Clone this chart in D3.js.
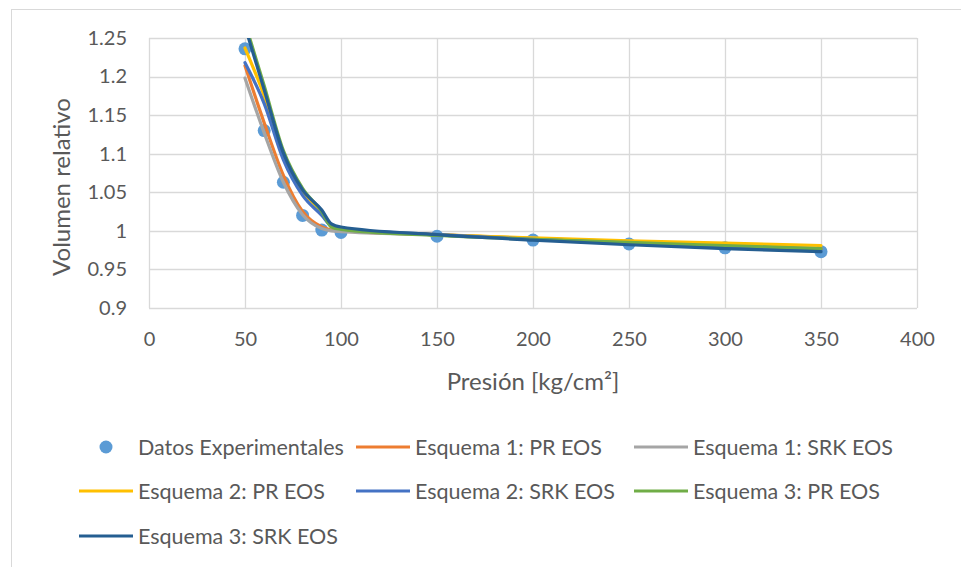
<!DOCTYPE html>
<html><head><meta charset="utf-8">
<script src="https://cdn.jsdelivr.net/npm/d3@7"></script>
<style>
html,body{margin:0;padding:0;background:#fff;}
svg{display:block;}
text{font-family:Lato,"Open Sans",sans-serif;fill:#595959;}
</style></head>
<body><svg id="c" width="961" height="567"></svg>
<script>
// ---- data ----
const expPressures = [50, 60, 70, 80, 90, 100, 150, 200, 250, 300, 350];
const expValues = [1.236, 1.130, 1.063, 1.020, 1.001, 0.998, 0.993, 0.988, 0.983, 0.978, 0.973];
const modelPressures = [50, 60, 70, 80, 90, 95, 100, 150, 200, 250, 300, 350];
const esq1PR  = [1.214, 1.140, 1.072, 1.025, 1.005, 1.001, 1.000, 0.995, 0.990, 0.986, 0.981, 0.977];
const esq1SRK = [1.198, 1.127, 1.063, 1.021, 1.003, 1.000, 0.999, 0.995, 0.990, 0.985, 0.980, 0.976];
const esq2PR  = [1.237, 1.175, 1.099, 1.052, 1.024, 1.007, 1.003, 0.995, 0.991, 0.987, 0.984, 0.981];
const esq2SRK = [1.218, 1.165, 1.092, 1.046, 1.020, 1.006, 1.003, 0.995, 0.989, 0.984, 0.979, 0.975];
const esq3PR  = [1.270, 1.188, 1.104, 1.055, 1.025, 1.005, 1.002, 0.994, 0.989, 0.985, 0.981, 0.977];
const esq3SRK = [1.265, 1.183, 1.101, 1.053, 1.027, 1.009, 1.005, 0.995, 0.988, 0.982, 0.977, 0.973];
const seriesNames = ["Datos Experimentales", "Esquema 1: PR EOS", "Esquema 1: SRK EOS",
  "Esquema 2: PR EOS", "Esquema 2: SRK EOS", "Esquema 3: PR EOS", "Esquema 3: SRK EOS"];
const seriesColors = ["#5B9BD5", "#ED7D31", "#A5A5A5", "#FFC000", "#4472C4", "#70AD47", "#255E91"];
const xTicks = [0, 50, 100, 150, 200, 250, 300, 350, 400];
const yTicks = [0.9, 0.95, 1, 1.05, 1.1, 1.15, 1.2, 1.25];
const xTitle = "Presión [kg/cm²]";
const yTitle = "Volumen relativo";

const lines = [esq1PR, esq1SRK, esq2PR, esq2SRK, esq3PR, esq3SRK];

const svg = d3.select("#c");
svg.append("rect").attr("x", 11.5).attr("y", 9.5).attr("width", 1000).attr("height", 600)
  .attr("fill", "#fff").attr("stroke", "#D9D9D9").attr("stroke-width", 1);

const L = 149, R = 917, T = 38, B = 308;
const x = d3.scaleLinear().domain([0, 400]).range([L, R]);
const y = d3.scaleLinear().domain([0.9, 1.25]).range([B, T]);

// gridlines
const g = svg.append("g");
g.selectAll("line.h").data(yTicks).join("line")
  .attr("x1", L).attr("x2", R).attr("y1", d => Math.round(y(d)) + 0.5).attr("y2", d => Math.round(y(d)) + 0.5)
  .attr("stroke", "#D9D9D9").attr("stroke-width", 1.3);
g.selectAll("line.v").data(xTicks).join("line")
  .attr("y1", T).attr("y2", B).attr("x1", d => Math.round(x(d)) + 0.5).attr("x2", d => Math.round(x(d)) + 0.5)
  .attr("stroke", "#D9D9D9").attr("stroke-width", 1.3);

// axes labels via d3 axes
const xAxis = d3.axisBottom(x).tickValues(xTicks).tickSize(0).tickPadding(24).tickFormat(d3.format("d"));
const yAxis = d3.axisLeft(y).tickValues(yTicks).tickSize(0).tickPadding(22).tickFormat(d => String(+d.toFixed(2)));
const gx = svg.append("g").attr("transform", `translate(0,${B})`).call(xAxis);
const gy = svg.append("g").attr("transform", `translate(${L},0)`).call(yAxis);
[gx, gy].forEach(a => {
  a.select(".domain").remove();
  a.selectAll("text").attr("font-family", "Lato").attr("font-size", 20).attr("fill", "#595959");
});

// titles
svg.append("text").attr("x", (L + R) / 2).attr("y", 390).attr("text-anchor", "middle")
  .attr("font-size", 24).text(xTitle);
svg.append("text").attr("transform", `translate(70,${(T + B) / 2 + 14}) rotate(-90)`)
  .attr("text-anchor", "middle").attr("font-size", 24).text(yTitle);

// clip
svg.append("clipPath").attr("id", "clip").append("rect")
  .attr("x", L).attr("y", T).attr("width", R - L).attr("height", B - T);

// points
svg.append("g").selectAll("circle").data(expPressures).join("circle")
  .attr("cx", d => x(d)).attr("cy", (d, i) => y(expValues[i])).attr("r", 6.5)
  .attr("fill", seriesColors[0]);

// lines
const lineGen = d3.line().x(d => x(d[0])).y(d => y(d[1])).curve(d3.curveMonotoneX);
const lg = svg.append("g").attr("clip-path", "url(#clip)");
lines.forEach((vals, k) => {
  lg.append("path").datum(modelPressures.map((p, i) => [p, vals[i]]))
    .attr("d", lineGen).attr("fill", "none").attr("stroke", seriesColors[k + 1])
    .attr("stroke-width", 3.2).attr("stroke-linejoin", "round").attr("stroke-linecap", "round");
});

// legend
const rowsY = [447, 491, 536];
const colsX = [79, 356, 634];
const leg = svg.append("g");
seriesNames.forEach((name, i) => {
  const r = Math.floor(i / 3), c = i % 3;
  const sx = colsX[c], sy = rowsY[r];
  if (i === 0) {
    leg.append("circle").attr("cx", sx + 27).attr("cy", sy).attr("r", 6.5).attr("fill", seriesColors[0]);
  } else {
    leg.append("line").attr("x1", sx).attr("x2", sx + 54).attr("y1", sy).attr("y2", sy)
      .attr("stroke", seriesColors[i]).attr("stroke-width", 3.2);
  }
  leg.append("text").attr("x", sx + 59).attr("y", sy).attr("dy", "0.35em")
    .attr("font-size", 21.5).text(name);
});
</script></body></html>
